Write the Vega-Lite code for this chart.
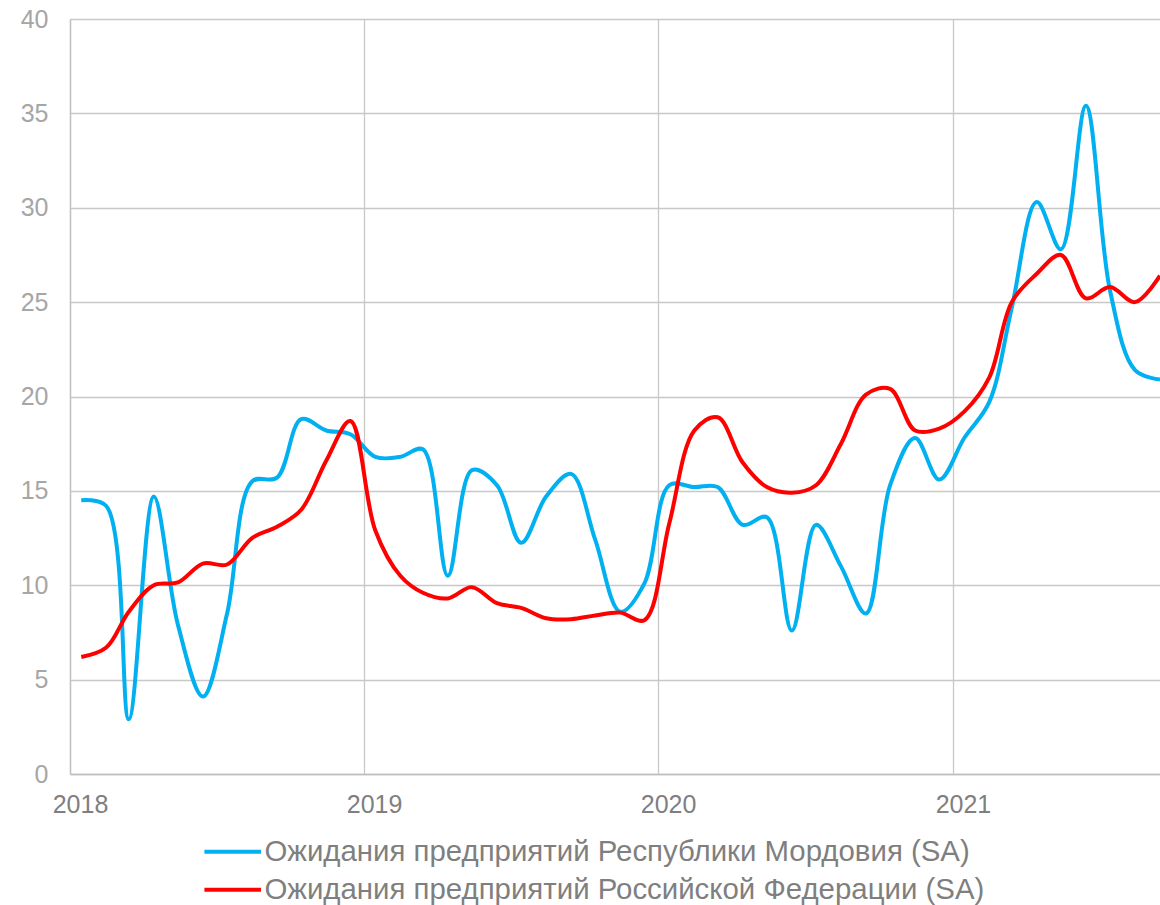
{
  "$schema": "https://vega.github.io/schema/vega-lite/v6.json",
  "width": 1090,
  "height": 755,
  "autosize": {"type": "none"},
  "padding": {"left": 70, "top": 19, "right": 0, "bottom": 131},
  "background": "white",
  "config": {
    "font": "Liberation Sans",
    "view": {"stroke": null},
    "axis": {"gridColor": "#c8c8c8", "gridWidth": 1.3, "domainColor": "#bfbfbf", "domainWidth": 1.3, "ticks": false, "labelColor": "#8c8c8c", "labelFontSize": 25, "labelFont": "Liberation Sans", "title": null}
  },
  "datasets": {
    "d": [
      {"date": "2018-01-15", "s": "Ожидания предприятий Республики Мордовия (SA)", "v": 14.5},
      {"date": "2018-02-15", "s": "Ожидания предприятий Республики Мордовия (SA)", "v": 14.2},
      {"date": "2018-03-15", "s": "Ожидания предприятий Республики Мордовия (SA)", "v": 2.9},
      {"date": "2018-04-15", "s": "Ожидания предприятий Республики Мордовия (SA)", "v": 14.7},
      {"date": "2018-05-15", "s": "Ожидания предприятий Республики Мордовия (SA)", "v": 7.9},
      {"date": "2018-06-15", "s": "Ожидания предприятий Республики Мордовия (SA)", "v": 4.1},
      {"date": "2018-07-15", "s": "Ожидания предприятий Республики Мордовия (SA)", "v": 8.5},
      {"date": "2018-08-15", "s": "Ожидания предприятий Республики Мордовия (SA)", "v": 15.5},
      {"date": "2018-09-15", "s": "Ожидания предприятий Республики Мордовия (SA)", "v": 15.7},
      {"date": "2018-10-15", "s": "Ожидания предприятий Республики Мордовия (SA)", "v": 18.8},
      {"date": "2018-11-15", "s": "Ожидания предприятий Республики Мордовия (SA)", "v": 18.2},
      {"date": "2018-12-15", "s": "Ожидания предприятий Республики Мордовия (SA)", "v": 18.0},
      {"date": "2019-01-15", "s": "Ожидания предприятий Республики Мордовия (SA)", "v": 16.8},
      {"date": "2019-02-15", "s": "Ожидания предприятий Республики Мордовия (SA)", "v": 16.8},
      {"date": "2019-03-15", "s": "Ожидания предприятий Республики Мордовия (SA)", "v": 17.2},
      {"date": "2019-04-15", "s": "Ожидания предприятий Республики Мордовия (SA)", "v": 10.5},
      {"date": "2019-05-15", "s": "Ожидания предприятий Республики Мордовия (SA)", "v": 16.1},
      {"date": "2019-06-15", "s": "Ожидания предприятий Республики Мордовия (SA)", "v": 15.3},
      {"date": "2019-07-15", "s": "Ожидания предприятий Республики Мордовия (SA)", "v": 12.25},
      {"date": "2019-08-15", "s": "Ожидания предприятий Республики Мордовия (SA)", "v": 14.7},
      {"date": "2019-09-15", "s": "Ожидания предприятий Республики Мордовия (SA)", "v": 15.9},
      {"date": "2019-10-15", "s": "Ожидания предприятий Республики Мордовия (SA)", "v": 12.4},
      {"date": "2019-11-15", "s": "Ожидания предприятий Республики Мордовия (SA)", "v": 8.6},
      {"date": "2019-12-15", "s": "Ожидания предприятий Республики Мордовия (SA)", "v": 10.1},
      {"date": "2020-01-15", "s": "Ожидания предприятий Республики Мордовия (SA)", "v": 15.3},
      {"date": "2020-02-15", "s": "Ожидания предприятий Республики Мордовия (SA)", "v": 15.2},
      {"date": "2020-03-15", "s": "Ожидания предприятий Республики Мордовия (SA)", "v": 15.2},
      {"date": "2020-04-15", "s": "Ожидания предприятий Республики Мордовия (SA)", "v": 13.2},
      {"date": "2020-05-15", "s": "Ожидания предприятий Республики Мордовия (SA)", "v": 13.6},
      {"date": "2020-06-15", "s": "Ожидания предприятий Республики Мордовия (SA)", "v": 7.6},
      {"date": "2020-07-15", "s": "Ожидания предприятий Республики Мордовия (SA)", "v": 13.2},
      {"date": "2020-08-15", "s": "Ожидания предприятий Республики Мордовия (SA)", "v": 11.0},
      {"date": "2020-09-15", "s": "Ожидания предприятий Республики Мордовия (SA)", "v": 8.5},
      {"date": "2020-10-15", "s": "Ожидания предприятий Республики Мордовия (SA)", "v": 15.3},
      {"date": "2020-11-15", "s": "Ожидания предприятий Республики Мордовия (SA)", "v": 17.8},
      {"date": "2020-12-15", "s": "Ожидания предприятий Республики Мордовия (SA)", "v": 15.6},
      {"date": "2021-01-15", "s": "Ожидания предприятий Республики Мордовия (SA)", "v": 17.8},
      {"date": "2021-02-15", "s": "Ожидания предприятий Республики Мордовия (SA)", "v": 19.7},
      {"date": "2021-03-15", "s": "Ожидания предприятий Республики Мордовия (SA)", "v": 24.7},
      {"date": "2021-04-15", "s": "Ожидания предприятий Республики Мордовия (SA)", "v": 30.3},
      {"date": "2021-05-15", "s": "Ожидания предприятий Республики Мордовия (SA)", "v": 27.8},
      {"date": "2021-06-15", "s": "Ожидания предприятий Республики Мордовия (SA)", "v": 35.4},
      {"date": "2021-07-15", "s": "Ожидания предприятий Республики Мордовия (SA)", "v": 25.6},
      {"date": "2021-08-15", "s": "Ожидания предприятий Республики Мордовия (SA)", "v": 21.4},
      {"date": "2021-09-15", "s": "Ожидания предприятий Республики Мордовия (SA)", "v": 20.9},
      {"date": "2018-01-15", "s": "Ожидания предприятий Российской Федерации (SA)", "v": 6.2},
      {"date": "2018-02-15", "s": "Ожидания предприятий Российской Федерации (SA)", "v": 6.7},
      {"date": "2018-03-15", "s": "Ожидания предприятий Российской Федерации (SA)", "v": 8.6},
      {"date": "2018-04-15", "s": "Ожидания предприятий Российской Федерации (SA)", "v": 10.0},
      {"date": "2018-05-15", "s": "Ожидания предприятий Российской Федерации (SA)", "v": 10.15},
      {"date": "2018-06-15", "s": "Ожидания предприятий Российской Федерации (SA)", "v": 11.15},
      {"date": "2018-07-15", "s": "Ожидания предприятий Российской Федерации (SA)", "v": 11.1},
      {"date": "2018-08-15", "s": "Ожидания предприятий Российской Федерации (SA)", "v": 12.5},
      {"date": "2018-09-15", "s": "Ожидания предприятий Российской Федерации (SA)", "v": 13.1},
      {"date": "2018-10-15", "s": "Ожидания предприятий Российской Федерации (SA)", "v": 14.0},
      {"date": "2018-11-15", "s": "Ожидания предприятий Российской Федерации (SA)", "v": 16.6},
      {"date": "2018-12-15", "s": "Ожидания предприятий Российской Федерации (SA)", "v": 18.7},
      {"date": "2019-01-15", "s": "Ожидания предприятий Российской Федерации (SA)", "v": 12.9},
      {"date": "2019-02-15", "s": "Ожидания предприятий Российской Федерации (SA)", "v": 10.5},
      {"date": "2019-03-15", "s": "Ожидания предприятий Российской Федерации (SA)", "v": 9.6},
      {"date": "2019-04-15", "s": "Ожидания предприятий Российской Федерации (SA)", "v": 9.3},
      {"date": "2019-05-15", "s": "Ожидания предприятий Российской Федерации (SA)", "v": 9.9},
      {"date": "2019-06-15", "s": "Ожидания предприятий Российской Федерации (SA)", "v": 9.05},
      {"date": "2019-07-15", "s": "Ожидания предприятий Российской Федерации (SA)", "v": 8.8},
      {"date": "2019-08-15", "s": "Ожидания предприятий Российской Федерации (SA)", "v": 8.25},
      {"date": "2019-09-15", "s": "Ожидания предприятий Российской Федерации (SA)", "v": 8.2},
      {"date": "2019-10-15", "s": "Ожидания предприятий Российской Федерации (SA)", "v": 8.4},
      {"date": "2019-11-15", "s": "Ожидания предприятий Российской Федерации (SA)", "v": 8.55},
      {"date": "2019-12-15", "s": "Ожидания предприятий Российской Федерации (SA)", "v": 8.15},
      {"date": "2020-01-15", "s": "Ожидания предприятий Российской Федерации (SA)", "v": 13.3},
      {"date": "2020-02-15", "s": "Ожидания предприятий Российской Федерации (SA)", "v": 18.2},
      {"date": "2020-03-15", "s": "Ожидания предприятий Российской Федерации (SA)", "v": 18.9},
      {"date": "2020-04-15", "s": "Ожидания предприятий Российской Федерации (SA)", "v": 16.5},
      {"date": "2020-05-15", "s": "Ожидания предприятий Российской Федерации (SA)", "v": 15.2},
      {"date": "2020-06-15", "s": "Ожидания предприятий Российской Федерации (SA)", "v": 14.9},
      {"date": "2020-07-15", "s": "Ожидания предприятий Российской Федерации (SA)", "v": 15.3},
      {"date": "2020-08-15", "s": "Ожидания предприятий Российской Федерации (SA)", "v": 17.5},
      {"date": "2020-09-15", "s": "Ожидания предприятий Российской Федерации (SA)", "v": 20.1},
      {"date": "2020-10-15", "s": "Ожидания предприятий Российской Федерации (SA)", "v": 20.4},
      {"date": "2020-11-15", "s": "Ожидания предприятий Российской Федерации (SA)", "v": 18.2},
      {"date": "2020-12-15", "s": "Ожидания предприятий Российской Федерации (SA)", "v": 18.3},
      {"date": "2021-01-15", "s": "Ожидания предприятий Российской Федерации (SA)", "v": 19.2},
      {"date": "2021-02-15", "s": "Ожидания предприятий Российской Федерации (SA)", "v": 21.0},
      {"date": "2021-03-15", "s": "Ожидания предприятий Российской Федерации (SA)", "v": 25.0},
      {"date": "2021-04-15", "s": "Ожидания предприятий Российской Федерации (SA)", "v": 26.5},
      {"date": "2021-05-15", "s": "Ожидания предприятий Российской Федерации (SA)", "v": 27.5},
      {"date": "2021-06-15", "s": "Ожидания предприятий Российской Федерации (SA)", "v": 25.2},
      {"date": "2021-07-15", "s": "Ожидания предприятий Российской Федерации (SA)", "v": 25.8},
      {"date": "2021-08-15", "s": "Ожидания предприятий Российской Федерации (SA)", "v": 25.0},
      {"date": "2021-09-15", "s": "Ожидания предприятий Российской Федерации (SA)", "v": 26.4}
    ]
  },
  "data": {"name": "d"},
  "encoding": {
    "x": {
      "field": "date", "type": "temporal",
      "scale": {"type": "utc", "domain": [{"year": 2018, "month": 1, "date": 1, "utc": true}, {"year": 2021, "month": 9, "date": 15, "utc": true}]},
      "axis": {
        "values": [{"year": 2018, "month": 1, "date": 1, "utc": true}, {"year": 2019, "month": 1, "date": 1, "utc": true}, {"year": 2020, "month": 1, "date": 1, "utc": true}, {"year": 2021, "month": 1, "date": 1, "utc": true}],
        "format": "%Y", "labelFlush": false, "labelOffset": 10, "labelPadding": 18, "grid": true, "labelColor": "#7f7f7f"
      }
    },
    "y": {
      "field": "v", "type": "quantitative",
      "scale": {"domain": [0, 40], "nice": false},
      "axis": {"values": [0, 5, 10, 15, 20, 25, 30, 35, 40], "labelPadding": 22, "grid": true, "labelColor": "#a6a6a6"}
    },
    "color": {
      "field": "s", "type": "nominal",
      "scale": {"domain": ["Ожидания предприятий Республики Мордовия (SA)", "Ожидания предприятий Российской Федерации (SA)"], "range": ["#00b0f0", "#ff0000"]},
      "legend": {
        "title": null, "orient": "none", "legendX": 148, "legendY": 818, "direction": "vertical",
        "symbolType": "M-4,0H4", "symbolSize": 200, "symbolStrokeWidth": 4,
        "labelFontSize": 29.4, "labelColor": "#7f7f7f", "labelFont": "Liberation Sans", "labelOffset": 17, "rowPadding": 7, "padding": 0, "labelLimit": 1000
      }
    }
  },
  "layer": [
    {"transform": [{"filter": "datum.s === 'Ожидания предприятий Республики Мордовия (SA)'"}], "mark": {"type": "line", "interpolate": "catmull-rom", "strokeWidth": 4, "clip": true}},
    {"transform": [{"filter": "datum.s === 'Ожидания предприятий Российской Федерации (SA)'"}], "mark": {"type": "line", "interpolate": "catmull-rom", "strokeWidth": 4, "clip": true}}
  ]
}
